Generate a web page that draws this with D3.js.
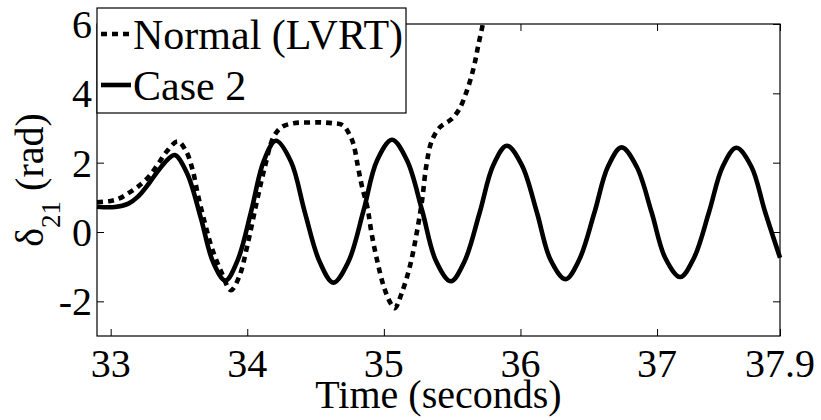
<!DOCTYPE html>
<html>
<head>
<meta charset="utf-8">
<script src="https://cdn.jsdelivr.net/npm/d3@7"></script>
<style>
  html, body { margin: 0; padding: 0; background: #fff; }
  svg { display: block; }
  svg text, svg tspan { font-family: "Liberation Serif", serif !important; }
</style>
</head>
<body>
<div id="chart"></div>
<script>
(function () {
    "use strict";

    const WIDTH = 821;
    const HEIGHT = 420;
    const M = { top: 24, right: 41, bottom: 84, left: 97 };
    const SERIF = "Liberation Serif";

    /* ---- data ---- */
    const X_DOMAIN = [32.9, 37.9];
    const Y_DOMAIN = [-3, 6];
    const xTicks = [33, 34, 35, 36, 37, 37.9];
    const yTicks = [-2, 0, 2, 4, 6];
    const seriesNames = ["Normal (LVRT)", "Case 2"];

    // Normal (LVRT), dotted
    const normalT = [32.90, 32.99, 33.06, 33.13, 33.20, 33.28, 33.35, 33.41, 33.49, 33.55,
                     33.60, 33.64, 33.69, 33.74, 33.81, 33.88, 33.94, 34.00, 34.07, 34.13,
                     34.19, 34.25, 34.34, 34.45, 34.55, 34.62, 34.70, 34.75, 34.78, 34.81,
                     34.84, 34.88, 34.91, 34.95, 35.00, 35.05, 35.08, 35.13, 35.19, 35.24,
                     35.28, 35.31, 35.35, 35.41, 35.49, 35.55, 35.61, 35.66, 35.69, 35.725];
    const normalV = [0.86, 0.89, 0.96, 1.12, 1.31, 1.60, 1.98, 2.32, 2.61, 2.35,
                     1.79, 1.05, 0.25, -0.45, -1.15, -1.68, -1.30, -0.40, 0.88, 1.90,
                     2.72, 3.02, 3.14, 3.16, 3.16, 3.14, 3.08, 2.80, 2.50, 1.89,
                     1.31, 0.70, -0.04, -0.81, -1.58, -2.06, -2.20, -1.77, -1.00, -0.04,
                     0.92, 1.89, 2.62, 3.02, 3.24, 3.53, 4.10, 4.78, 5.36, 6.00];

    // Case 2, solid
    const caseT = [32.90, 33.03, 33.13, 33.20, 33.28, 33.35, 33.42, 33.47, 33.56, 33.66,
                   33.75, 33.84, 33.93, 34.03, 34.12, 34.21, 34.32, 34.42, 34.53, 34.63,
                   34.74, 34.85, 34.95, 35.06, 35.17, 35.28, 35.38, 35.49, 35.59, 35.70,
                   35.80, 35.90, 36.01, 36.12, 36.22, 36.33, 36.43, 36.54, 36.64, 36.74,
                   36.85, 36.96, 37.06, 37.17, 37.27, 37.38, 37.48, 37.58, 37.69, 37.79,
                   37.90];
    const caseV = [0.73, 0.72, 0.82, 1.02, 1.40, 1.78, 2.10, 2.22, 1.69, 0.41,
                   -0.87, -1.40, -0.81, 0.62, 2.04, 2.63, 2.03, 0.59, -0.86, -1.46,
                   -0.86, 0.60, 2.06, 2.66, 2.06, 0.62, -0.82, -1.42, -0.85, 0.54,
                   1.92, 2.49, 1.93, 0.57, -0.80, -1.36, -0.80, 0.54, 1.88, 2.44,
                   1.89, 0.57, -0.75, -1.30, -0.75, 0.57, 1.88, 2.43, 1.89, 0.59,
                   -0.74];

    const FONT = 40;
    const LINE_W = 4.6;

    const w = WIDTH - M.left - M.right;
    const h = HEIGHT - M.top - M.bottom;

    function serif(sel, size) {
        sel.attr("font-family", SERIF)
            .style("font-family", SERIF, "important")
            .style("font-size", size + "px", "important");
    }

    const svg = d3.select("#chart").append("svg")
        .attr("width", WIDTH)
        .attr("height", HEIGHT);

    const x = d3.scaleLinear().domain(X_DOMAIN).range([0, w]);
    const y = d3.scaleLinear().domain(Y_DOMAIN).range([h, 0]);

    const g = svg.append("g").attr("transform", "translate(" + M.left + "," + M.top + ")");

    /* ---- lines ---- */
    const line = d3.line()
        .x(function (d) { return x(d[0]); })
        .y(function (d) { return y(d[1]); })
        .curve(d3.curveCatmullRom.alpha(0.5));

    const normalData = normalT.map(function (t, i) { return [t, normalV[i]]; });
    const caseData = caseT.map(function (t, i) { return [t, caseV[i]]; });

    g.append("path")
        .datum(caseData)
        .attr("d", line)
        .attr("fill", "none")
        .attr("stroke", "#000")
        .attr("stroke-width", LINE_W)
        .attr("stroke-linejoin", "round");

    g.append("path")
        .datum(normalData)
        .attr("d", line)
        .attr("fill", "none")
        .attr("stroke", "#000")
        .attr("stroke-width", LINE_W)
        .attr("stroke-dasharray", "6,5");

    /* ---- axes: inward mirrored ticks from d3.axis, labels placed with the scales ---- */
    function tickOnly(sel) {
        sel.attr("font-family", null).attr("font-size", null);
        sel.select(".domain").remove();
        sel.selectAll(".tick text").remove();
        sel.selectAll(".tick line").attr("stroke", "#000").attr("stroke-width", 1);
    }

    g.append("g").attr("transform", "translate(0," + h + ")")
        .call(d3.axisBottom(x).tickValues(xTicks).tickSize(-7)).call(tickOnly);
    g.append("g")
        .call(d3.axisTop(x).tickValues(xTicks).tickSize(-7)).call(tickOnly);
    g.append("g")
        .call(d3.axisLeft(y).tickValues(yTicks).tickSize(-7)).call(tickOnly);
    g.append("g").attr("transform", "translate(" + w + ",0)")
        .call(d3.axisRight(y).tickValues(yTicks).tickSize(-7)).call(tickOnly);

    g.append("rect")
        .attr("x", 0).attr("y", 0)
        .attr("width", w).attr("height", h)
        .attr("fill", "none")
        .attr("stroke", "#000")
        .attr("stroke-width", 1.2);

    g.selectAll(".xlab").data(xTicks).enter().append("text")
        .attr("class", "xlab")
        .attr("x", function (d) { return x(d); })
        .attr("y", h + 41)
        .attr("text-anchor", "middle")
        .call(serif, FONT)
        .text(function (d) { return String(d); });

    g.selectAll(".ylab").data(yTicks).enter().append("text")
        .attr("class", "ylab")
        .attr("x", -5)
        .attr("y", function (d) { return y(d) + 14; })
        .attr("text-anchor", "end")
        .call(serif, FONT)
        .text(function (d) { return String(d); });

    /* ---- axis titles ---- */
    svg.append("text")
        .attr("x", M.left + w / 2)
        .attr("y", 408)
        .attr("text-anchor", "middle")
        .call(serif, FONT)
        .text("Time (seconds)");

    const yTitle = svg.append("text")
        .attr("transform", "translate(43," + (M.top + h / 2) + ") rotate(-90)")
        .attr("text-anchor", "middle")
        .call(serif, FONT);
    yTitle.append("tspan").text("δ");
    yTitle.append("tspan").attr("dy", 17).call(serif, 27).text("21");
    yTitle.append("tspan").attr("dy", -17).call(serif, FONT).text(" (rad)");

    /* ---- legend ---- */
    const leg = svg.append("g").attr("transform", "translate(97,8)");
    leg.append("rect")
        .attr("x", 0).attr("y", 0)
        .attr("width", 309).attr("height", 105)
        .attr("fill", "#fff")
        .attr("stroke", "#000")
        .attr("stroke-width", 1.2);

    const legRows = [
        { name: seriesNames[0], dash: "6,5", y: 26 },
        { name: seriesNames[1], dash: null, y: 77 }
    ];
    legRows.forEach(function (r) {
        leg.append("line")
            .attr("x1", 4).attr("x2", 34)
            .attr("y1", r.y).attr("y2", r.y)
            .attr("stroke", "#000")
            .attr("stroke-width", LINE_W)
            .attr("stroke-dasharray", r.dash);
        leg.append("text")
            .attr("x", 36)
            .attr("y", r.y + 15)
            .call(serif, 42)
            .text(r.name);
    });
})();
</script>
</body>
</html>
